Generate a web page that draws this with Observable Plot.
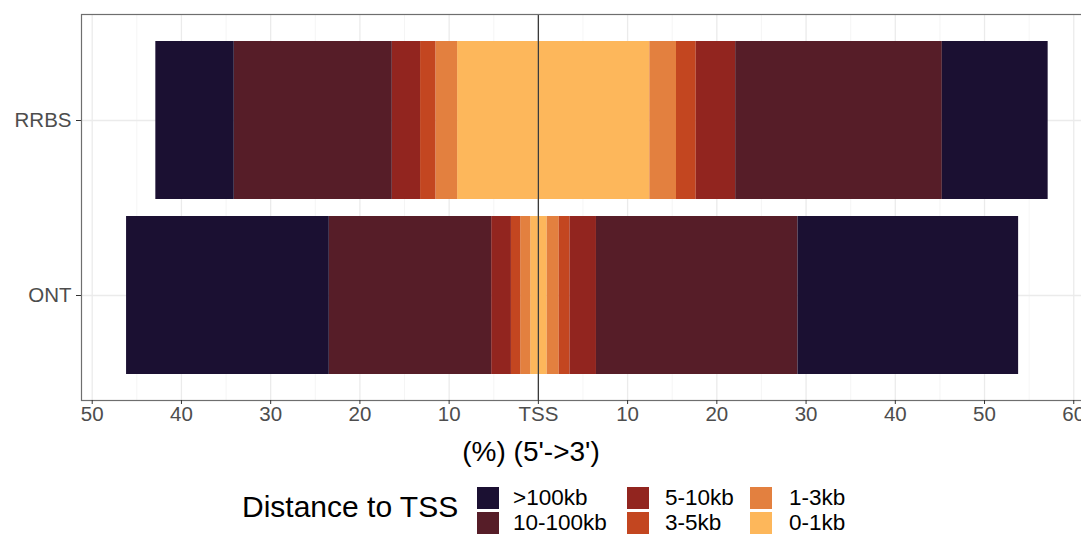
<!DOCTYPE html>
<html><head><meta charset="utf-8">
<script src="https://cdn.jsdelivr.net/npm/d3@7"></script>
<script src="https://cdn.jsdelivr.net/npm/@observablehq/plot@0.6"></script>
<style>
html,body{margin:0;padding:0;background:#fff;overflow:hidden;}
#wrap{position:relative;width:1081px;height:534px;overflow:hidden;font-family:"Liberation Sans",Arial,sans-serif;}
#chart{position:absolute;left:0;top:0;}
.abs{position:absolute;white-space:nowrap;}
</style></head><body><div id="wrap"><div id="chart"></div></div>
<script>
// ---- data ----
const samples = ["RRBS", "ONT"];
const categories = [">100kb", "10-100kb", "5-10kb", "3-5kb", "1-3kb", "0-1kb"];
const colors = ["#1b1032", "#561d28", "#92251f", "#c34620", "#e3803f", "#fdb75b"];
// percentages per category (order as in categories), 5' side (upstream) and 3' side (downstream)
const rrbs5 = [8.79, 17.71, 3.17, 1.72, 2.43, 9.05];
const rrbs3 = [11.86, 23.16, 4.42, 2.21, 2.99, 12.49];
const ont5 = [22.72, 18.20, 2.21, 1.04, 1.12, 0.86];
const ont3 = [24.73, 22.58, 2.95, 1.22, 1.35, 0.99];
const xTicks = [-50, -40, -30, -20, -10, 0, 10, 20, 30, 40, 50, 60];
const xMinor = [-45, -35, -25, -15, -5, 5, 15, 25, 35, 45, 55];
const xDomain = [-51.2, 62.1];
const xTitle = "(%) (5'->3')";
const legendTitle = "Distance to TSS";

const values = {RRBS: [rrbs5, rrbs3], ONT: [ont5, ont3]};
const rows = [];
for (const s of samples) {
  [0, 1].forEach(side => {
    const arr = values[s][side];
    for (let i = categories.length - 1; i >= 0; i--) {
      rows.push({sample: s, category: categories[i], value: side === 0 ? -arr[i] : arr[i]});
    }
  });
}

const fontFam = "'Liberation Sans', Arial, sans-serif";
const chart = Plot.plot({
  width: 1081, height: 430,
  marginLeft: 81, marginRight: -11, marginTop: 14, marginBottom: 30,
  style: {fontFamily: fontFam, fontSize: "20.5px", background: "white"},
  x: {domain: xDomain},
  y: {domain: samples, paddingInner: 0.1, paddingOuter: 0.15, align: 0.5},
  color: {domain: categories, range: colors},
  marks: [
    Plot.gridX(xMinor, {stroke: "#f0f0f0", strokeOpacity: 1, strokeWidth: 0.7}),
    Plot.gridX(xTicks, {stroke: "#ebebeb", strokeOpacity: 1, strokeWidth: 1.3}),
    Plot.gridY(samples, {stroke: "#ebebeb", strokeOpacity: 1, strokeWidth: 1.3}),
    Plot.barX(rows, {x: "value", y: "sample", fill: "category", order: null}),
    Plot.ruleX([0], {stroke: "#3a3a3a", strokeWidth: 1.3}),
    Plot.frame({stroke: "#6e6e6e", strokeWidth: 1.2}),
    Plot.axisX(xTicks, {tickFormat: d => d === 0 ? "TSS" : String(Math.abs(d)), tickSize: 4, tickPadding: 2,
      stroke: "#333", fill: "#4d4d4d", fontSize: 20.5, label: null}),
    Plot.axisY(samples, {tickSize: 5, tickPadding: 5, stroke: "#333", fill: "#4d4d4d", fontSize: 20.5, label: null})
  ]
});
document.getElementById("chart").appendChild(chart);

const wrap = d3.select("#wrap");
// x axis title
wrap.append("div").attr("class", "abs")
  .style("left", "0px").style("width", "1062px").style("text-align", "center")
  .style("top", "436px").style("font-size", "28px").style("color", "#000")
  .text(xTitle);

// legend
wrap.append("div").attr("class", "abs")
  .style("left", "242px").style("top", "490px").style("font-size", "30px").style("line-height", "34px").style("color", "#000")
  .text(legendTitle);
const keyX = [477, 627, 750], labX = [513, 665, 789], rowY = [487, 512];
categories.forEach((c, i) => {
  const col = Math.floor(i / 2), row = i % 2;
  wrap.append("div").attr("class", "abs")
    .style("left", keyX[col] + "px").style("top", rowY[row] + "px")
    .style("width", "22px").style("height", "22px").style("background", colors[i]);
  wrap.append("div").attr("class", "abs")
    .style("left", labX[col] + "px").style("top", (rowY[row] + 0.5) + "px")
    .style("font-size", "22.5px").style("line-height", "20px").style("color", "#000")
    .text(c);
});
</script></body></html>
